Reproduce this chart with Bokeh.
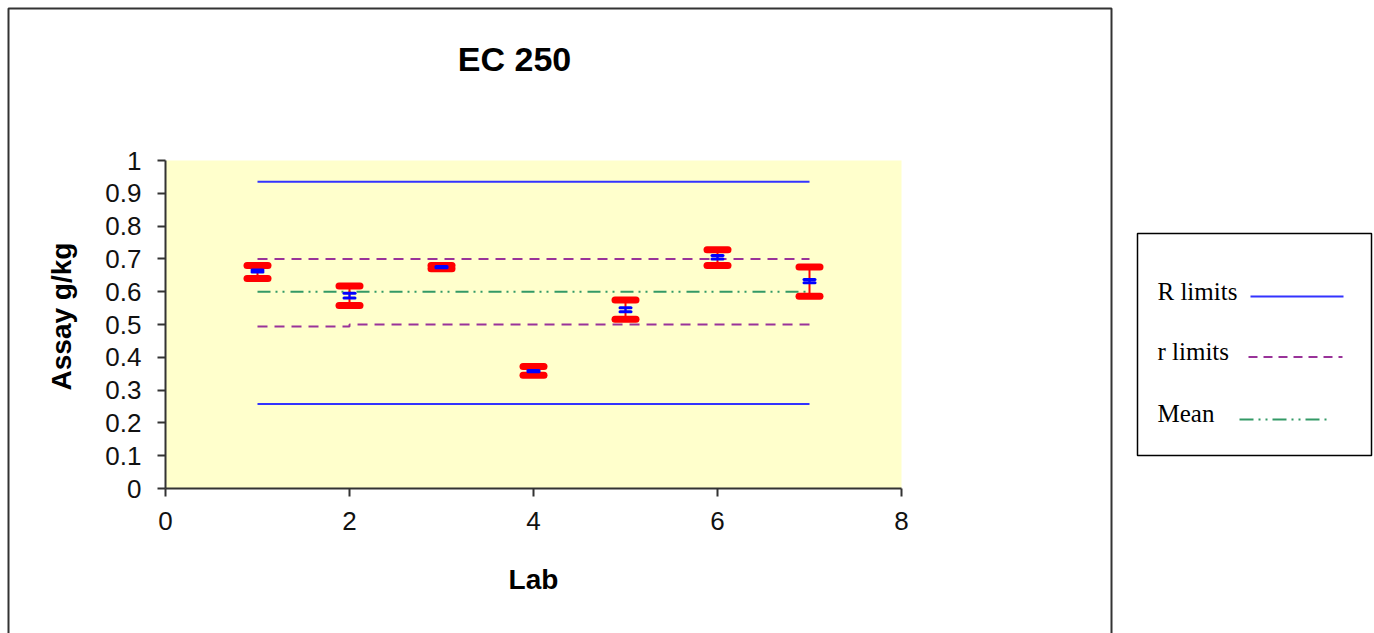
import math
from bokeh.plotting import figure
from bokeh.models import Range1d, LinearAxis, FixedTicker, ColumnDataSource, Whisker, TeeHead
from bokeh.core.properties import value
from bokeh.embed import file_html
from bokeh.resources import INLINE

# ---------------- data ----------------
labs = [1, 2, 3, 4, 5, 6, 7]
lab_low = [0.640, 0.558, 0.670, 0.345, 0.516, 0.680, 0.586]
lab_high = [0.680, 0.617, 0.680, 0.372, 0.575, 0.728, 0.675]
lab_mean = [0.663, 0.588, 0.675, 0.358, 0.545, 0.705, 0.632]
lab_sd = [0.003, 0.007, 0.002, 0.002, 0.006, 0.005, 0.005]

R_x = [1, 7]
R_upper = [0.935, 0.935]
R_lower = [0.258, 0.258]
r_upper_x = [1, 7]
r_upper = [0.700, 0.700]
r_lower_x = [1, 2, 2, 7]
r_lower = [0.494, 0.494, 0.500, 0.500]
mean_x = [1, 7]
mean_y = [0.600, 0.600]

x_ticks = [0, 2, 4, 6, 8]
x_tick_labels = ["0", "2", "4", "6", "8"]
y_ticks = [0, 0.1, 0.2, 0.3, 0.4, 0.5, 0.6, 0.7, 0.8, 0.9, 1]
y_tick_labels = ["0", "0.1", "0.2", "0.3", "0.4", "0.5", "0.6", "0.7", "0.8", "0.9", "1"]

title_text = "EC 250"
x_label = "Lab"
y_label = "Assay g/kg"
legend_labels = ["R limits", "r limits", "Mean"]

# ---------------- layout helpers (canvas pixels -> data) ----------------
W, H = 1374, 633
X0PX, XSCALE = 165.0, 92.0
Y0PX, YSCALE = 488.0, 328.0


def sx(px):
    return (px - X0PX) / XSCALE


def sy(py):
    return (Y0PX - py) / YSCALE


FONT = "Liberation Sans"
BLUE = "#3333FF"
PURPLE = "#993399"
GREEN = "#339966"
RED = "#FF0000"

p = figure(width=W, height=H,
           x_range=Range1d(sx(0), sx(W)), y_range=Range1d(sy(H), sy(0)),
           x_axis_location=None, y_axis_location=None,
           toolbar_location=None, output_backend="svg", min_border=0)
p.outline_line_color = None
p.background_fill_color = "white"
p.border_fill_color = "white"
for g in p.grid:
    g.visible = False

# outer chart border
p.quad(left=sx(8), right=sx(1111), top=sy(8), bottom=sy(H + 20),
       fill_color=None, line_color="#333333", line_width=2)

# plot area
p.quad(left=x_ticks[0], right=x_ticks[-1], bottom=y_ticks[0], top=y_ticks[-1],
       fill_color="#FFFFCC", line_color=None)

# axes
xaxis = LinearAxis(fixed_location=0, bounds=(x_ticks[0], x_ticks[-1]),
                   ticker=FixedTicker(ticks=x_ticks),
                   major_label_overrides={t: l for t, l in zip(x_ticks, x_tick_labels)})
yaxis = LinearAxis(fixed_location=0, bounds=(y_ticks[0], y_ticks[-1]),
                   ticker=FixedTicker(ticks=y_ticks),
                   major_label_overrides={t: l for t, l in zip(y_ticks, y_tick_labels)})
for ax in (xaxis, yaxis):
    ax.axis_line_color = "#333333"
    ax.axis_line_width = 2
    ax.major_tick_line_color = "#333333"
    ax.major_tick_line_width = 2
    ax.major_tick_out = 8
    ax.major_tick_in = 0
    ax.minor_tick_out = 0
    ax.minor_tick_in = 0
    ax.major_label_text_font = FONT
    ax.major_label_text_font_size = "26px"
    ax.major_label_text_color = "#111111"
xaxis.major_label_standoff = 15
yaxis.major_label_standoff = 16
p.add_layout(xaxis, "below")
p.add_layout(yaxis, "left")

# limit lines
p.line(R_x, R_upper, line_color=BLUE, line_width=2)
p.line(R_x, R_lower, line_color=BLUE, line_width=2)
p.line(r_upper_x, r_upper, line_color=PURPLE, line_width=2, line_dash="10 7")
p.line(r_lower_x, r_lower, line_color=PURPLE, line_width=2, line_dash="10 7")
p.line(mean_x, mean_y, line_color=GREEN, line_width=2, line_dash="13 5 2 5 2 6")

# error bars
src = ColumnDataSource(dict(
    lab=labs, low=lab_low, high=lab_high,
    blo=[m - s for m, s in zip(lab_mean, lab_sd)],
    bhi=[m + s for m, s in zip(lab_mean, lab_sd)],
))
red = Whisker(source=src, base="lab", lower="low", upper="high", dimension="height",
              line_color=RED, line_width=2, level="overlay",
              upper_head=TeeHead(size=21, line_color=RED, line_width=7, line_cap="round"),
              lower_head=TeeHead(size=21, line_color=RED, line_width=7, line_cap="round"))
blue = Whisker(source=src, base="lab", lower="blo", upper="bhi", dimension="height",
               line_color="#0000FF", line_width=2, level="overlay",
               upper_head=TeeHead(size=11, line_color="#0000FF", line_width=3, line_cap="round"),
               lower_head=TeeHead(size=11, line_color="#0000FF", line_width=3, line_cap="round"))
p.add_layout(red)
p.add_layout(blue)

# title and axis labels
p.text(x=[sx(514)], y=[sy(58)], text=[title_text], text_font=value(FONT),
       text_font_size="34px", text_font_style="bold", text_align="center",
       text_baseline="alphabetic", text_color="black")
p.text(x=[sx(533)], y=[sy(579)], text=[x_label], text_font=value(FONT),
       text_font_size="28px", text_font_style="bold", text_align="center",
       text_baseline="alphabetic", text_color="black")
p.text(x=[sx(61)], y=[sy(316)], text=[y_label], text_font=value(FONT),
       text_font_size="28px", text_font_style="bold", text_align="center",
       text_baseline="alphabetic", text_color="black", angle=math.pi / 2)

# legend box
p.quad(left=sx(1137), right=sx(1371), top=sy(233), bottom=sy(455),
       fill_color="white", line_color="black", line_width=1.5)
p.text(x=[sx(1157)] * 3, y=[sy(291), sy(351), sy(413)], text=legend_labels,
       text_font=value("Liberation Serif"), text_font_size="25px",
       text_baseline="alphabetic", text_align="left", text_color="black")
p.line([sx(1250), sx(1343)], [sy(296)] * 2, line_color=BLUE, line_width=2)
p.line([sx(1248), sx(1342)], [sy(356.5)] * 2, line_color=PURPLE, line_width=2, line_dash="9 6")
p.line([sx(1239), sx(1330)], [sy(419)] * 2, line_color=GREEN, line_width=2, line_dash="14 5 2 5 2 5")

open("out.html", "w").write(file_html(p, INLINE))
